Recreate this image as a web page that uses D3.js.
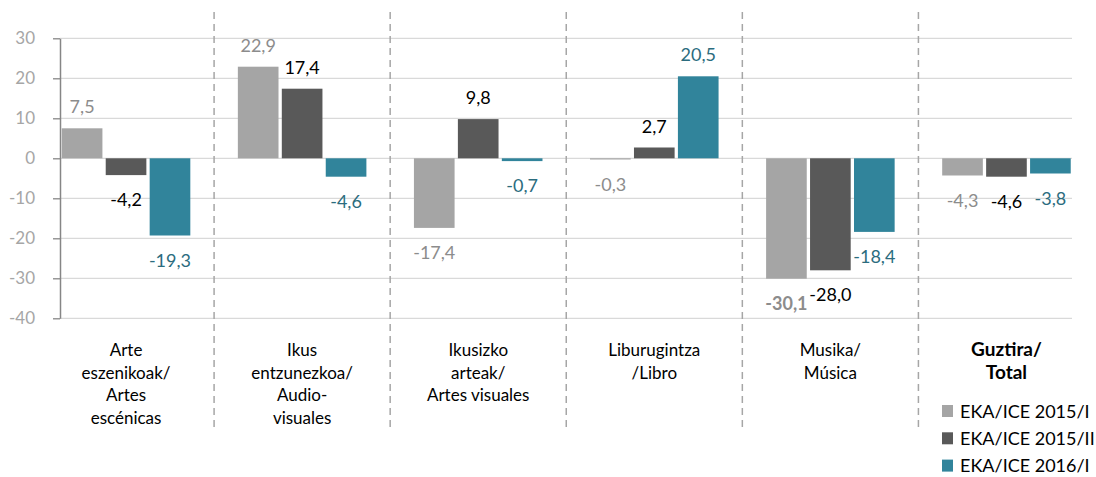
<!DOCTYPE html>
<html>
<head>
<meta charset="utf-8">
<script src="https://cdn.jsdelivr.net/npm/d3@7"></script>
<style>
  html, body { margin: 0; padding: 0; background: #fff; }
  svg { display: block; font-family: Lato, "Liberation Sans", sans-serif; }
</style>
</head>
<body>
<div id="chart"></div>
<script>
// categories, one label line per entry
const categories = ["arte", "ikus", "ikusizko", "liburu", "musika", "guztira"];
const categoryLines = [
  ["Arte", "eszenikoak/", "Artes", "escénicas"],
  ["Ikus", "entzunezkoa/", "Audio-", "visuales"],
  ["Ikusizko", "arteak/", "Artes visuales"],
  ["Liburugintza", "/Libro"],
  ["Musika/", "Música"],
  ["Guztira/", "Total"]
];
const seriesNames = ["EKA/ICE 2015/I", "EKA/ICE 2015/II", "EKA/ICE 2016/I"];
const ice2015I  = [7.5, 22.9, -17.4, -0.3, -30.1, -4.3];
const ice2015II = [-4.2, 17.4, 9.8, 2.7, -28.0, -4.6];
const ice2016I  = [-19.3, -4.6, -0.7, 20.5, -18.4, -3.8];
const yTicks = [30, 20, 10, 0, -10, -20, -30, -40];

const barColors = ["#a5a5a5", "#595959", "#31849b"];
const labelColors = ["#8c8c8c", "#000000", "#2b6c7e"];

const width = 1096, height = 477;
const plotLeft = 60, plotRight = 1072;

const seriesValues = [ice2015I, ice2015II, ice2016I];
const rows = categories.map((c, i) => ({
  cat: c,
  lines: categoryLines[i],
  values: seriesNames.map((s, j) => ({ series: s, idx: j, value: seriesValues[j][i] }))
}));
const minValue = d3.min(seriesValues.flat());

// comma decimals and a plain hyphen for the minus sign
const loc = d3.formatLocale({ decimal: ",", thousands: ".", grouping: [3], currency: ["", "€"], minus: "-" });
const fmt = loc.format(".1f");
const fmtTick = loc.format("d");

const svg = d3.select("#chart").append("svg")
    .attr("width", width)
    .attr("height", height);

const x0 = d3.scaleBand()
    .domain(categories)
    .range([plotLeft - 22, plotRight + 22.5])
    .paddingInner(0.27)
    .paddingOuter(0.135);

const x1 = d3.scaleBand()
    .domain(seriesNames)
    .range([0, x0.bandwidth()])
    .paddingInner(0.075);

const y = d3.scaleLinear()
    .domain([-40, 30])
    .range([318.3, 38.3]);

// gridlines
svg.append("g")
  .selectAll("line")
  .data(yTicks)
  .join("line")
    .attr("x1", plotLeft)
    .attr("x2", plotRight)
    .attr("y1", d => y(d))
    .attr("y2", d => y(d))
    .attr("stroke", "#d9d9d9")
    .attr("stroke-width", 1.3);

// dashed separators between categories
const seps = categories.slice(0, -1).map(c => x0(c) + x0.bandwidth() + (x0.step() - x0.bandwidth()) / 2);
svg.append("g")
  .selectAll("line")
  .data(seps)
  .join("line")
    .attr("x1", d => d)
    .attr("x2", d => d)
    .attr("y1", 12)
    .attr("y2", 432)
    .attr("stroke", "#a6a6a6")
    .attr("stroke-width", 1.5)
    .attr("stroke-dasharray", "7,5");

// bars
const groups = svg.append("g")
  .selectAll("g")
  .data(rows)
  .join("g")
    .attr("transform", d => `translate(${x0(d.cat)},0)`);

groups.selectAll("rect")
  .data(d => d.values)
  .join("rect")
    .attr("x", d => x1(d.series))
    .attr("width", x1.bandwidth())
    .attr("y", d => y(Math.max(0, d.value)))
    .attr("height", d => Math.abs(y(d.value) - y(0)))
    .attr("fill", d => barColors[d.idx]);

// data labels
groups.selectAll("text")
  .data(d => d.values)
  .join("text")
    .attr("x", d => x1(d.series) + x1.bandwidth() / 2)
    .attr("y", d => d.value >= 0 ? y(d.value) - 15 : y(d.value) + 31)
    .attr("text-anchor", "middle")
    .attr("font-size", 18)
    .attr("font-weight", d => d.value === minValue ? "bold" : "normal")
    .attr("fill", d => labelColors[d.idx])
    .text(d => fmt(d.value));

// y axis
const yAxis = svg.append("g")
    .attr("transform", `translate(${plotLeft},0)`)
    .call(d3.axisLeft(y).tickValues(yTicks).tickFormat(fmtTick).tickSize(7).tickPadding(18).tickSizeOuter(0));
yAxis.select(".domain").attr("stroke", "#868686").attr("stroke-width", 1.5);
yAxis.selectAll(".tick line").attr("stroke", "#868686").attr("stroke-width", 1.3);
yAxis.selectAll(".tick text")
    .attr("font-family", "Lato, sans-serif")
    .attr("font-size", 17)
    .attr("fill", "#a6a6a6");

// category labels (the total is bold and a bit larger)
const isTotal = (d, i) => i === rows.length - 1;
const catLabels = svg.append("g")
  .selectAll("text")
  .data(rows)
  .join("text")
    .attr("text-anchor", "middle")
    .attr("font-size", (d, i) => isTotal(d, i) ? 19 : 17)
    .attr("fill", "#000")
    .attr("font-weight", (d, i) => isTotal(d, i) ? "bold" : "normal")
    .attr("transform", d => `translate(${x0(d.cat) + x0.bandwidth() / 2},356)`);

catLabels.selectAll("tspan")
  .data(d => d.lines)
  .join("tspan")
    .attr("x", 0)
    .attr("y", (d, i) => i * 22.5)
    .text(d => d);

// legend
const legend = svg.append("g")
    .attr("transform", "translate(942,405)");

const li = legend.selectAll("g")
  .data(seriesNames)
  .join("g")
    .attr("transform", (d, i) => `translate(0,${i * 27.3})`);

li.append("rect")
    .attr("width", 11)
    .attr("height", 12)
    .attr("fill", (d, i) => barColors[i]);

li.append("text")
    .attr("x", 18)
    .attr("y", 12.5)
    .attr("font-size", 18)
    .attr("fill", "#000")
    .text(d => d);
</script>
</body>
</html>
